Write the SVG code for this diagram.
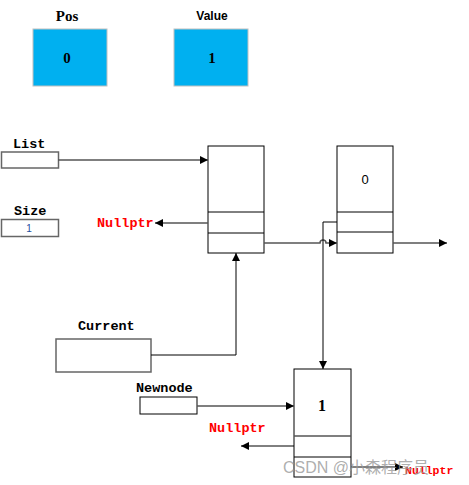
<svg xmlns="http://www.w3.org/2000/svg" width="469" height="485" viewBox="0 0 469 485">
<style>
.lbl{font-family:"Liberation Mono","DejaVu Sans Mono",monospace;font-weight:bold;font-size:13.5px;fill:#000}
.red{font-family:"Liberation Mono","DejaVu Sans Mono",monospace;font-weight:bold;font-size:13.5px;fill:#ff0000}
.num{font-family:"Liberation Serif","DejaVu Serif",serif;font-size:15px;fill:#000;text-anchor:middle}
.box{fill:#fff;stroke:#000;stroke-width:1}
.gbox{fill:#fff;stroke:#666;stroke-width:1.5}
.blue{fill:#00b0f0;stroke:#c0c0c0;stroke-width:1}
.ln{fill:none;stroke:#555;stroke-width:1.5}
.ln2{fill:none;stroke:#000;stroke-width:1}
</style>
<defs>
<marker id="ah" viewBox="0 0 10 10" refX="10" refY="5" markerWidth="8" markerHeight="8" markerUnits="userSpaceOnUse" orient="auto">
<path d="M0,0 L10,5 L0,10 z" fill="#000"/>
</marker>
</defs>
<rect width="469" height="485" fill="#fff"/>

<g id="pos">
<text x="67" y="21" class="num" style="font-size:15px;font-weight:bold">Pos</text>
<rect x="33" y="29" width="74" height="57" class="blue"/>
<text x="67" y="63" class="num" style="font-weight:bold">0</text>
</g>
<g id="value">
<text x="212" y="20" text-anchor="middle" style="font-family:'Liberation Sans',sans-serif;font-weight:bold;font-size:12px">Value</text>
<rect x="174" y="29" width="74" height="57" class="blue"/>
<text x="212" y="63" class="num" style="font-weight:bold">1</text>
</g>

<g id="list">
<text x="13" y="148" class="lbl">List</text>
<rect x="1.5" y="152" width="57" height="16" class="gbox"/>
</g>
<g id="size">
<text x="14" y="215" class="lbl">Size</text>
<rect x="1.5" y="219.5" width="57" height="17" class="gbox"/>
<text x="29" y="232" text-anchor="middle" style="font-family:'Liberation Sans',sans-serif;font-size:10px;fill:#1f4e9f">1</text>
</g>

<g id="node1">
<rect x="208" y="146" width="56" height="107" class="box"/>
<line x1="208" y1="212" x2="264" y2="212" stroke="#000"/>
<line x1="208" y1="233" x2="264" y2="233" stroke="#000"/>
</g>
<g id="node2">
<rect x="337" y="146" width="56" height="107" class="box"/>
<text x="365" y="184" class="num" style="font-family:'Liberation Sans',sans-serif;font-size:13px">0</text>
<line x1="337" y1="212" x2="393" y2="212" stroke="#000"/>
<line x1="337" y1="232" x2="393" y2="232" stroke="#000"/>
</g>
<g id="node3">
<rect x="294" y="369" width="57" height="108" class="box"/>
<text x="322" y="411" class="num" style="font-size:16px;font-weight:bold">1</text>
<line x1="294" y1="436" x2="351" y2="436" stroke="#555" stroke-width="1.5"/>
<line x1="294" y1="457" x2="351" y2="457" stroke="#000"/>
</g>

<g id="current">
<text x="78" y="330" class="lbl">Current</text>
<rect x="56" y="339" width="95" height="33" class="gbox"/>
</g>
<g id="newnode">
<text x="136" y="392" class="lbl">Newnode</text>
<rect x="140" y="397" width="57" height="17" class="box"/>
</g>

<g id="nullptrs">
<text x="97" y="227" class="red">Nullptr</text>
<text x="209" y="432" class="red">Nullptr</text>
<text x="405" y="474" class="red" style="font-size:11.5px">Nullptr</text>
</g>

<g id="connectors">
<line x1="58" y1="160" x2="208" y2="160" class="ln" marker-end="url(#ah)"/>
<line x1="208" y1="223" x2="155" y2="223" class="ln" marker-end="url(#ah)"/>
<path d="M264,243 H320 A3,3 0 0 1 326,243 H337" class="ln" marker-end="url(#ah)"/>
<line x1="393" y1="243" x2="447" y2="243" class="ln" marker-end="url(#ah)"/>
<path d="M337,222 H323 V369" class="ln2" marker-end="url(#ah)"/>
<path d="M151,355 H236 V253" class="ln2" marker-end="url(#ah)"/>
<line x1="197" y1="406" x2="294" y2="406" class="ln" marker-end="url(#ah)"/>
<line x1="294" y1="446" x2="241" y2="446" class="ln2" marker-end="url(#ah)"/>
<line x1="351" y1="467" x2="403" y2="467" class="ln2" marker-end="url(#ah)"/>
</g>

<text x="283" y="473" style="font-family:'Liberation Sans','Noto Sans CJK SC',sans-serif;font-size:16px;fill:#999;fill-opacity:0.8">CSDN @小森程序员</text>
</svg>
